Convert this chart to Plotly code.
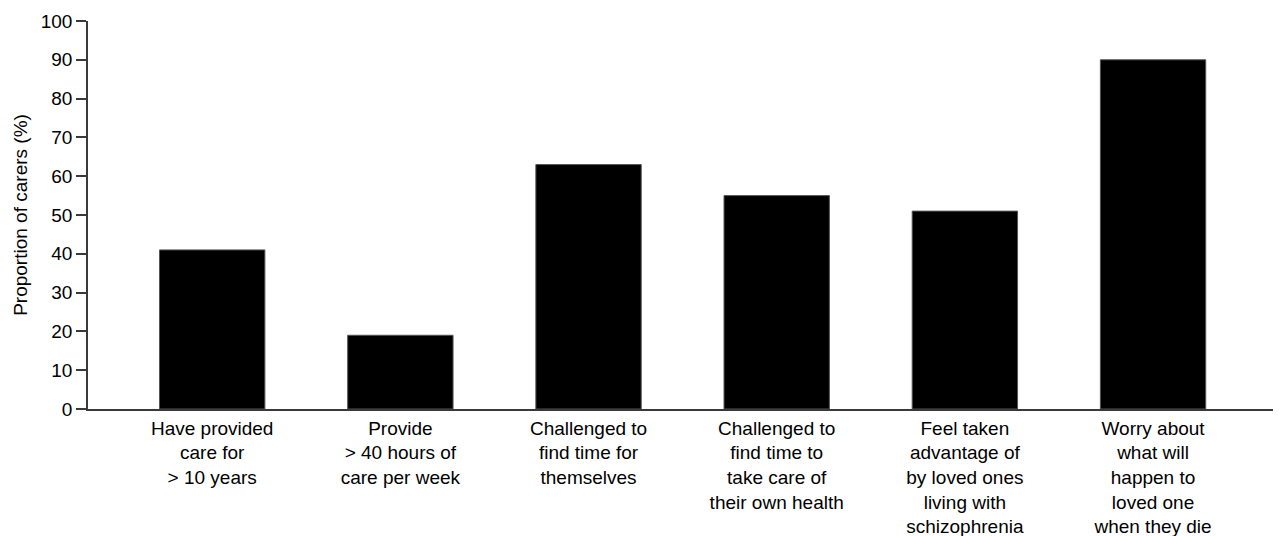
import plotly.graph_objects as go

# ── Data ───────────────────────────────────────────────────────
categories = [
    "Have provided<br>care for<br>> 10 years",
    "Provide<br>> 40 hours of<br>care per week",
    "Challenged to<br>find time for<br>themselves",
    "Challenged to<br>find time to<br>take care of<br>their own health",
    "Feel taken<br>advantage of<br>by loved ones<br>living with<br>schizophrenia",
    "Worry about<br>what will<br>happen to<br>loved one<br>when they die",
]
proportions = [41, 19, 63, 55, 51, 90]
y_ticks = [0, 10, 20, 30, 40, 50, 60, 70, 80, 90, 100]

_FONT = "Liberation Sans, Arial, sans-serif"
_AXIS = "#3a3a3a"

fig = go.Figure(
    go.Bar(
        x=list(range(len(categories))),
        y=proportions,
        width=0.56,
        marker=dict(color="#000000", line=dict(color="#555555", width=1)),
        hoverinfo="skip",
    )
)

# page body has an 8px margin, so the figure is sized/offset to suit
fig.update_layout(
    width=1273,
    height=528,
    paper_bgcolor="white",
    plot_bgcolor="white",
    font=dict(family=_FONT, color="#000000", size=19),
    margin=dict(l=80, r=0, t=13, b=127),
    showlegend=False,
    xaxis=dict(
        range=[-0.66, 5.68],
        tickmode="array",
        tickvals=list(range(len(categories))),
        ticktext=categories,
        ticks="outside",
        ticklen=1,
        tickcolor="rgba(0,0,0,0)",
        showline=True,
        linecolor=_AXIS,
        linewidth=1.5,
        showgrid=False,
        zeroline=False,
        automargin=False,
        tickfont=dict(size=19),
    ),
    yaxis=dict(
        range=[0, 100],
        tickmode="array",
        tickvals=y_ticks,
        ticks="outside",
        ticklen=10,
        tickwidth=1.5,
        tickcolor=_AXIS,
        showline=True,
        linecolor=_AXIS,
        linewidth=1.5,
        showgrid=False,
        zeroline=False,
        automargin=False,
        tickfont=dict(size=19),
        title=dict(text="Proportion of carers (%)", font=dict(size=19), standoff=8),
    ),
)

fig.write_html("out.html")
